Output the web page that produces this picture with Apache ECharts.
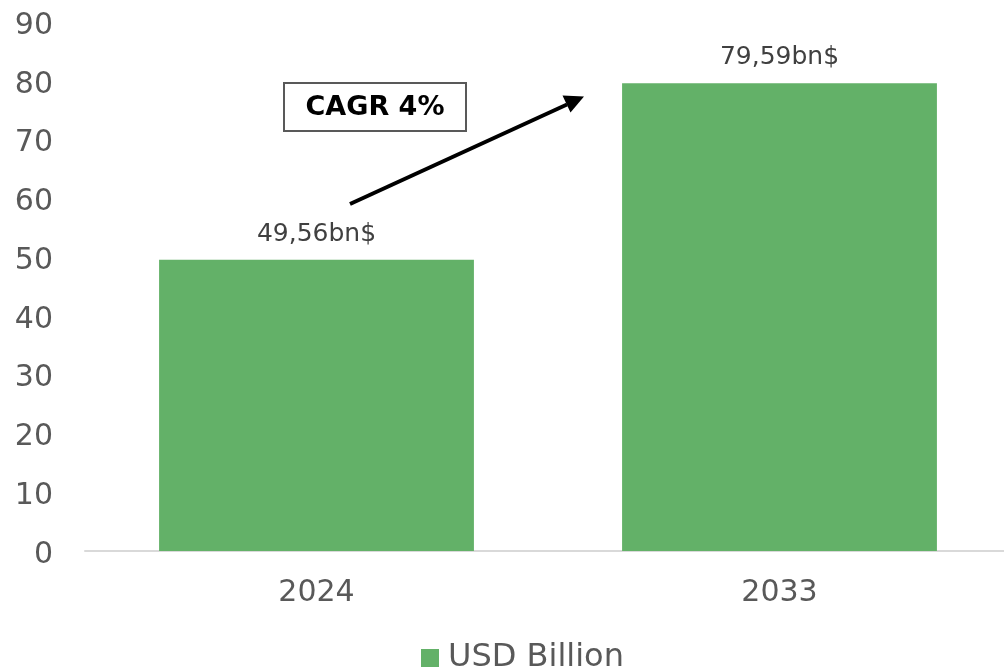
<!DOCTYPE html>
<html>
<head>
<meta charset="utf-8">
<script src="https://cdn.jsdelivr.net/npm/echarts@6/dist/echarts.min.js"></script>
<style>
  html, body { margin: 0; padding: 0; background: #fff; }
  #chart { width: 1004px; height: 672px; }
</style>
</head>
<body>
<div id="chart"></div>
<script>
// data
const years = ['2024', '2033'];
const usdBillion = [49.56, 79.59];
const barLabels = ['49,56bn$', '79,59bn$'];
const seriesName = 'USD Billion';
const cagrText = 'CAGR 4%';

const chart = echarts.init(document.getElementById('chart'));

const option = {
  animation: false,
  textStyle: { fontFamily: 'DejaVu Sans' },
  // plot area runs a little past the right edge like the original
  grid: { left: 85, width: 926, top: 22, bottom: 121, containLabel: false, outerBoundsMode: 'none' },
  legend: {
    bottom: -7,
    left: 416,
    itemWidth: 18,
    itemHeight: 18,
    itemGap: 8,
    icon: 'rect',
    textStyle: { fontSize: 32, color: '#595959', fontFamily: 'DejaVu Sans', padding: [0, 0, 0, 4] },
    data: [seriesName]
  },
  xAxis: {
    type: 'category',
    data: years,
    axisLine: { lineStyle: { color: '#d9d9d9', width: 2 } },
    axisTick: { show: false },
    axisLabel: { fontSize: 30, color: '#595959', margin: 27 }
  },
  yAxis: {
    type: 'value',
    min: 0,
    max: 90,
    interval: 10,
    splitLine: { show: false },
    axisLine: { show: false },
    axisTick: { show: false },
    axisLabel: { fontSize: 30, color: '#595959', margin: 32, lineHeight: 36, verticalAlign: 'top', padding: [-14, 0, 0, 0] }
  },
  series: [{
    name: seriesName,
    type: 'bar',
    data: usdBillion,
    barWidth: '68%',
    itemStyle: { color: '#63b168' },
    label: {
      show: true,
      position: 'top',
      distance: 13,
      fontSize: 25,
      color: '#404040',
      formatter: p => barLabels[p.dataIndex]
    }
  }],
  graphic: [
    {
      type: 'rect',
      shape: { x: 284, y: 83, width: 182, height: 48 },
      style: { fill: '#fff', stroke: '#595959', lineWidth: 2 }
    },
    {
      type: 'text',
      x: 375, y: 108,
      style: {
        text: cagrText, fill: '#000', font: 'bold 27px "DejaVu Sans"',
        align: 'center', verticalAlign: 'middle'
      }
    },
    {
      type: 'line',
      shape: { x1: 350, y1: 204, x2: 567, y2: 104.5 },
      style: { stroke: '#000', lineWidth: 4 }
    },
    {
      type: 'polygon',
      shape: { points: [[584, 96.5], [570.5, 112.5], [562.5, 95.5]] },
      style: { fill: '#000' }
    }
  ]
};

chart.setOption(option);
</script>
</body>
</html>
